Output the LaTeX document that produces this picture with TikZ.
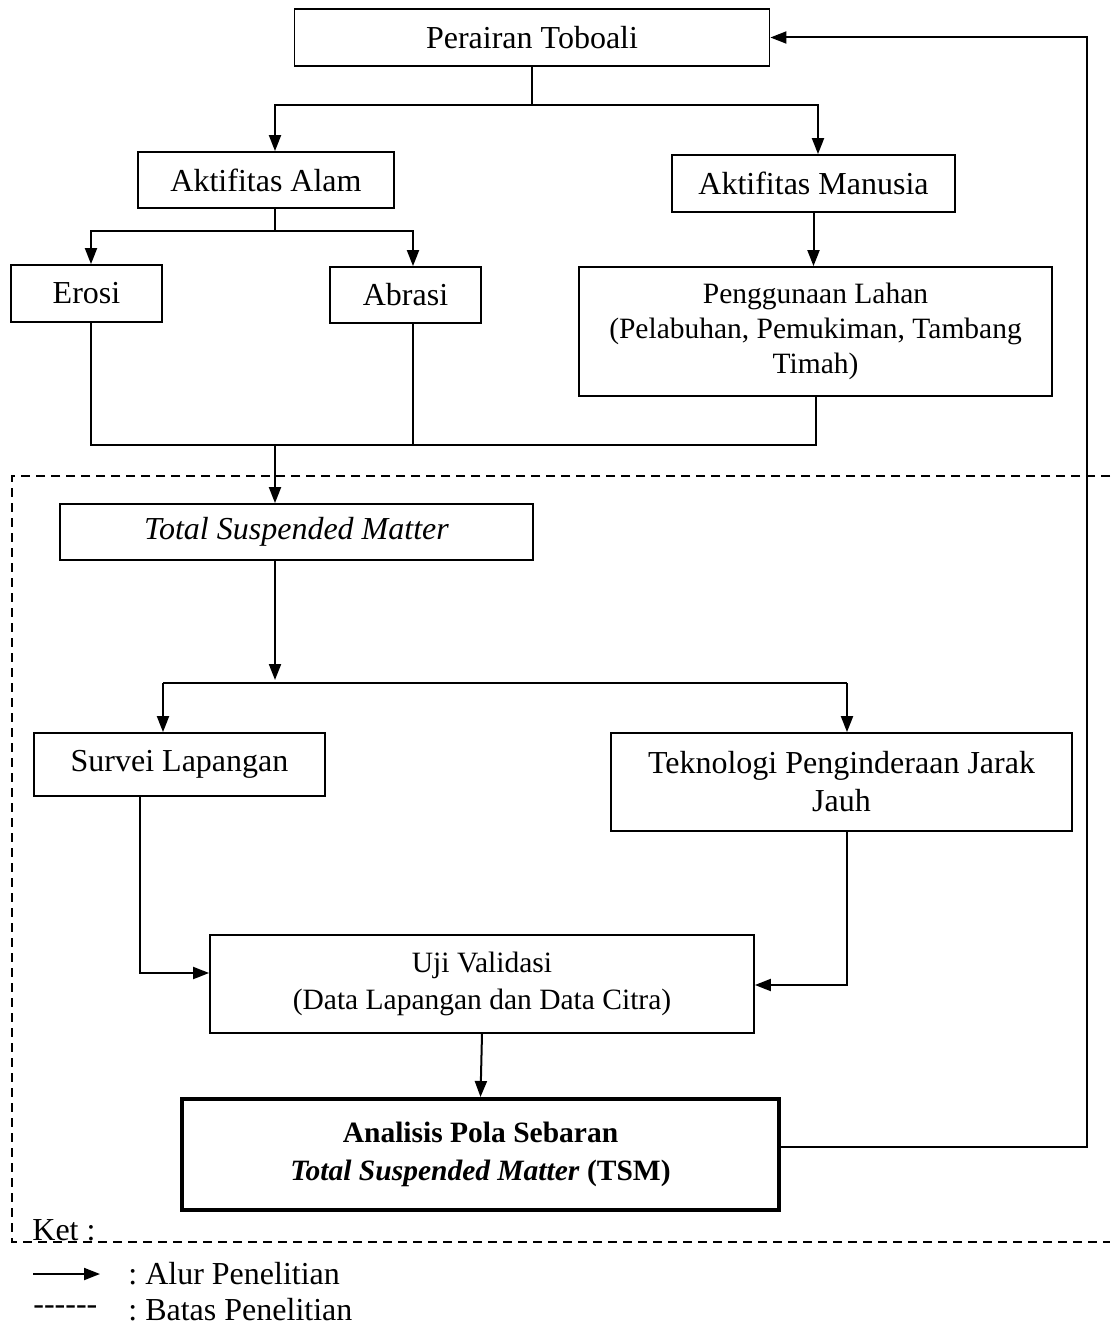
\documentclass[tikz,border=0pt]{standalone}
\usepackage{fontspec}
\setmainfont{Liberation Serif}
\usetikzlibrary{positioning}
\usetikzlibrary{calc}
\usetikzlibrary{arrows.meta}
\frenchspacing

\begin{document}
\begin{tikzpicture}[x=0.5pt, y=-0.5pt,
  box/.style={draw, line width=0.9pt, inner sep=0pt, align=center,
    font=\fontsize{16}{19}\selectfont},
  smallbox/.style={box, font=\fontsize{14.75}{18}\selectfont},
  flow/.style={line width=1pt, -{Triangle[length=8pt,width=6pt]}},
  link/.style={line width=0.8pt},
  batas/.style={line width=1pt, dash pattern=on 4.5pt off 3pt},
  ket/.style={inner sep=0pt, font=\fontsize{16}{19}\selectfont}]
  \useasboundingbox (0,0) rectangle (1110,1327);

  \node[box, minimum width=237.5pt, minimum height=28.5pt] (toboali) at (532,37.5) {Perairan Toboali};
  \node[box, minimum width=128pt, minimum height=28pt] (alam) at (266,180) {Aktifitas Alam};
  \node[box, minimum width=141.5pt, minimum height=28.5pt] (manusia) at (813.5,183.5) {Aktifitas Manusia};
  \node[box, minimum width=75.5pt, minimum height=28.5pt] (erosi) at (86.5,293.5) {Erosi};
  \node[box, minimum width=75.5pt, minimum height=28pt] (abrasi) at (405.5,295) {Abrasi};
  \node[smallbox, minimum width=236.5pt, minimum height=64.5pt, font=\fontsize{14.75}{17.5}\selectfont]
    (lahan) at (815.5,331.5) {Penggunaan Lahan\\(Pelabuhan, Pemukiman, Tambang\\Timah)};
  \node[box, minimum width=236.5pt, minimum height=28pt] (tsm) at (296.5,532) {\itshape Total Suspended Matter};
  \node[box, minimum width=145.5pt, minimum height=31.5pt] (survei) at (179.5,764.5) {Survei Lapangan};
  \node[box, minimum width=230.5pt, minimum height=49pt] (tekno) at (841.5,782) {Teknologi Penginderaan Jarak\\Jauh};
  \node[smallbox, minimum width=272pt, minimum height=49pt, font=\fontsize{14.75}{18.5}\selectfont]
    (uji) at (482,984) {Uji Validasi\\(Data Lapangan dan Data Citra)};
  \node[smallbox, line width=2pt, minimum width=298.5pt, minimum height=55.5pt, font=\bfseries\fontsize{14.75}{19}\selectfont]
    (analisis) at (480.5,1154.5) {Analisis Pola Sebaran\\\textit{Total Suspended Matter} (TSM)};

  \coordinate (s1) at (532,105);
  \coordinate (l1) at (275,105);
  \coordinate (r1) at (818,105);
  \draw[link] (toboali.south) -- (s1);
  \draw[flow] (s1) -- (l1) -- (l1 |- alam.north);
  \draw[flow] (s1) -- (r1) -- (r1 |- manusia.north);

  \coordinate (s2) at (275,231);
  \coordinate (l2) at (91,231);
  \coordinate (r2) at (413,231);
  \draw[link] (alam.south -| s2) -- (s2);
  \draw[flow] (s2) -- (l2) -- (l2 |- erosi.north);
  \draw[flow] (s2) -- (r2) -- (r2 |- abrasi.north);
  \draw[flow] (manusia.south) -- (manusia.south |- lahan.north);

  \coordinate (j1) at (91,445);
  \coordinate (j2) at (413,445);
  \coordinate (j3) at (816,445);
  \coordinate (j4) at (275,445);
  \draw[link] (j1 |- erosi.south) -- (j1) -- (j3) -- (j3 |- lahan.south);
  \draw[link] (j2 |- abrasi.south) -- (j2);
  \draw[flow] (j4) -- (j4 |- tsm.north);

  \coordinate (s3) at (275,683);
  \coordinate (l3) at (163,683);
  \coordinate (r3) at (847,683);
  \draw[flow] (s3 |- tsm.south) -- ($(s3)+(0,-3)$);
  \draw[link] (l3) -- (r3);
  \draw[flow] (l3) -- (l3 |- survei.north);
  \draw[flow] (r3) -- (r3 |- tekno.north);

  \coordinate (k1) at (140,973);
  \coordinate (k2) at (847,985);
  \draw[flow] (k1 |- survei.south) -- (k1) -- (k1 -| uji.west);
  \draw[flow] (k2 |- tekno.south) -- (k2) -- (k2 -| uji.east);
  \draw[flow] (uji.south) -- (analisis.north);

  \coordinate (fb) at (1087,1147);
  \draw[flow] (fb -| analisis.east) -- (fb) -- (fb |- toboali.east) -- (toboali.east);

  \coordinate (b1) at (1110,476);
  \coordinate (b2) at (12,476);
  \coordinate (b3) at (12,1242);
  \coordinate (b4) at (1110,1242);
  \draw[batas] (b1) -- (b2) -- (b3) -- (b4);

  \node[ket, anchor=base west] (keterangan) at (32,1240) {Ket :};
  \coordinate (la) at (33,1274);
  \coordinate (lb) at (100,1274);
  \draw[flow] (la) -- (lb);
  \node[ket, anchor=west] (alur) at (128,1274) {: Alur Penelitian};
  \node[ket, anchor=west] (garis) at (33,1310) {-\kern0pt-\kern0pt-\kern0pt-\kern0pt-\kern0pt-};
  \node[ket, anchor=west] (batasket) at (128,1310) {: Batas Penelitian};
\end{tikzpicture}
\end{document}
